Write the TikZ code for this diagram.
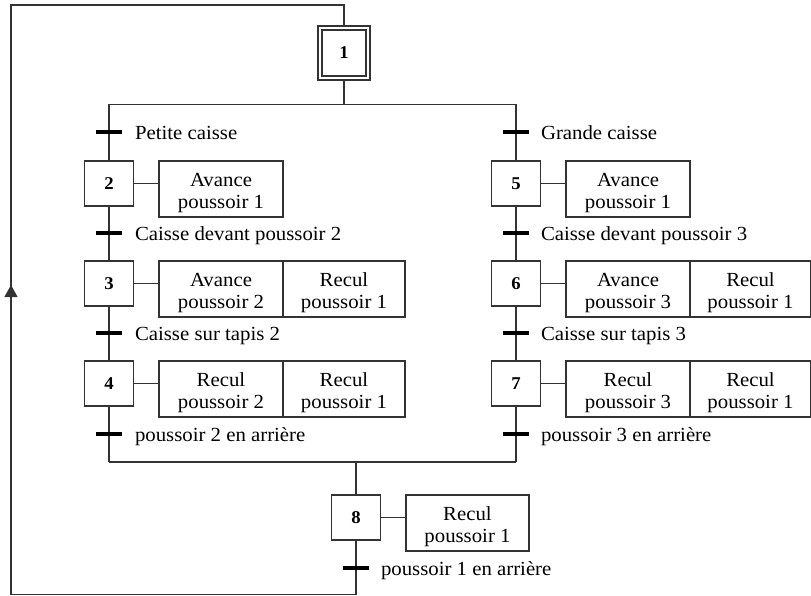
\documentclass[tikz,border=0pt]{standalone}
\usepackage{fontspec}
\setmainfont{Liberation Serif}[FakeStretch=1.04]
\usetikzlibrary{arrows.meta}
\definecolor{rule}{gray}{0.2}
% two-line action text, first line padded so the pair sits a little low in its box
\newcommand{\actpair}[2]{\rule{0pt}{21.5pt}#1\\#2}
\begin{document}
\begin{tikzpicture}[x=1pt,y=-1pt,
  line width=1.2pt, draw=rule,
  every node/.style={inner sep=0pt, outer sep=0pt},
  stepbox/.style={draw=rule, fill=white, minimum width=49pt, minimum height=45pt,
    font=\fontsize{18}{20}\selectfont\bfseries},
  actbox/.style={draw=rule, minimum width=124pt, minimum height=56pt, anchor=north west,
    align=center, font=\fontsize{20}{22}\selectfont},
  trbar/.style={fill=black, minimum width=26pt, minimum height=3.6pt},
  trlabel/.style={anchor=base west, font=\fontsize{20}{22}\selectfont}]

\useasboundingbox (0,0) rectangle (811,596);

% initial step
\node[draw=rule, minimum width=52pt, minimum height=54pt] (s1) at (344,53) {};
\node[draw=rule, minimum width=44pt, minimum height=46pt,
      font=\fontsize{18}{20}\selectfont\bfseries] (s1in) at (344,53) {1};

% left sequence
\node[stepbox] (s2) at (109,183.5) {2};
\node[stepbox] (s3) at (109,283.5) {3};
\node[stepbox] (s4) at (109,383.5) {4};
% right sequence
\node[stepbox] (s5) at (516,183.5) {5};
\node[stepbox] (s6) at (516,283.5) {6};
\node[stepbox] (s7) at (516,383.5) {7};
% final step
\node[stepbox] (s8) at (356,517.5) {8};

% actions
\node[actbox] (a2) at (159,161) {\actpair{Avance}{poussoir 1}};
\node[actbox] (a3) at (159,261) {\actpair{Avance}{poussoir 2}};
\node[actbox, minimum width=122pt] (a3b) at (a3.north east) {\actpair{Recul}{poussoir 1}};
\node[actbox] (a4) at (159,361) {\actpair{Recul}{poussoir 2}};
\node[actbox, minimum width=122pt] (a4b) at (a4.north east) {\actpair{Recul}{poussoir 1}};
\node[actbox] (a5) at (566,161) {\actpair{Avance}{poussoir 1}};
\node[actbox] (a6) at (566,261) {\actpair{Avance}{poussoir 3}};
\node[actbox, minimum width=121pt] (a6b) at (a6.north east) {\actpair{Recul}{poussoir 1}};
\node[actbox] (a7) at (566,361) {\actpair{Recul}{poussoir 3}};
\node[actbox, minimum width=121pt] (a7b) at (a7.north east) {\actpair{Recul}{poussoir 1}};
\node[actbox, minimum width=123pt] (a8) at (406,495) {\actpair{Recul}{poussoir 1}};

% transitions
\node[trbar] (tA) at (109,132) {};
\node[trbar] (tB) at (109,233) {};
\node[trbar] (tC) at (109,333) {};
\node[trbar] (tD) at (109,434) {};
\node[trbar] (tE) at (516,132) {};
\node[trbar] (tF) at (516,233) {};
\node[trbar] (tG) at (516,333) {};
\node[trbar] (tH) at (516,434) {};
\node[trbar] (tI) at (356,568) {};

\node[trlabel] (lA) at (135,139.5) {Petite caisse};
\node[trlabel] (lB) at (135,240.5) {Caisse devant poussoir 2};
\node[trlabel] (lC) at (135,340.5) {Caisse sur tapis 2};
\node[trlabel] (lD) at (135,441.5) {poussoir 2 en arrière};
\node[trlabel] (lE) at (541,139.5) {Grande caisse};
\node[trlabel] (lF) at (541,240.5) {Caisse devant poussoir 3};
\node[trlabel] (lG) at (541,340.5) {Caisse sur tapis 3};
\node[trlabel] (lH) at (541,441.5) {poussoir 3 en arrière};
\node[trlabel] (lI) at (381,575.5) {poussoir 1 en arrière};

% junction points
\coordinate (divL) at (109,104.5);
\coordinate (divR) at (516,104.5);
\coordinate (cvL) at (109,462);
\coordinate (cvR) at (516,462);
\coordinate (loopB) at (11,594.5);
\coordinate (loopT) at (11,5);
\coordinate (loopA) at (11,285);

% divergence / convergence
\draw (s1) -- (s1 |- divL);
\draw (divL) -- (divR);
\draw (cvL) -- (cvR);

% left branch
\draw (divL) -- (tA) -- (s2) -- (tB) -- (s3) -- (tC) -- (s4) -- (tD) -- (cvL);
% right branch
\draw (divR) -- (tE) -- (s5) -- (tF) -- (s6) -- (tG) -- (s7) -- (tH) -- (cvR);
% common end
\draw (s8 |- cvL) -- (s8) -- (tI) -- (tI |- loopB);

% loop back to the initial step
\draw (tI |- loopB) -- (loopB) -- (loopT) -| (s1);
\draw[-{Triangle[length=12pt,width=13pt]}] (loopB) -- (loopA);

% action links
\foreach \s/\a in {s2/a2,s3/a3,s4/a4,s5/a5,s6/a6,s7/a7,s8/a8}
  \draw (\s.east) -- (\s.east -| \a.west);
\end{tikzpicture}
\end{document}
